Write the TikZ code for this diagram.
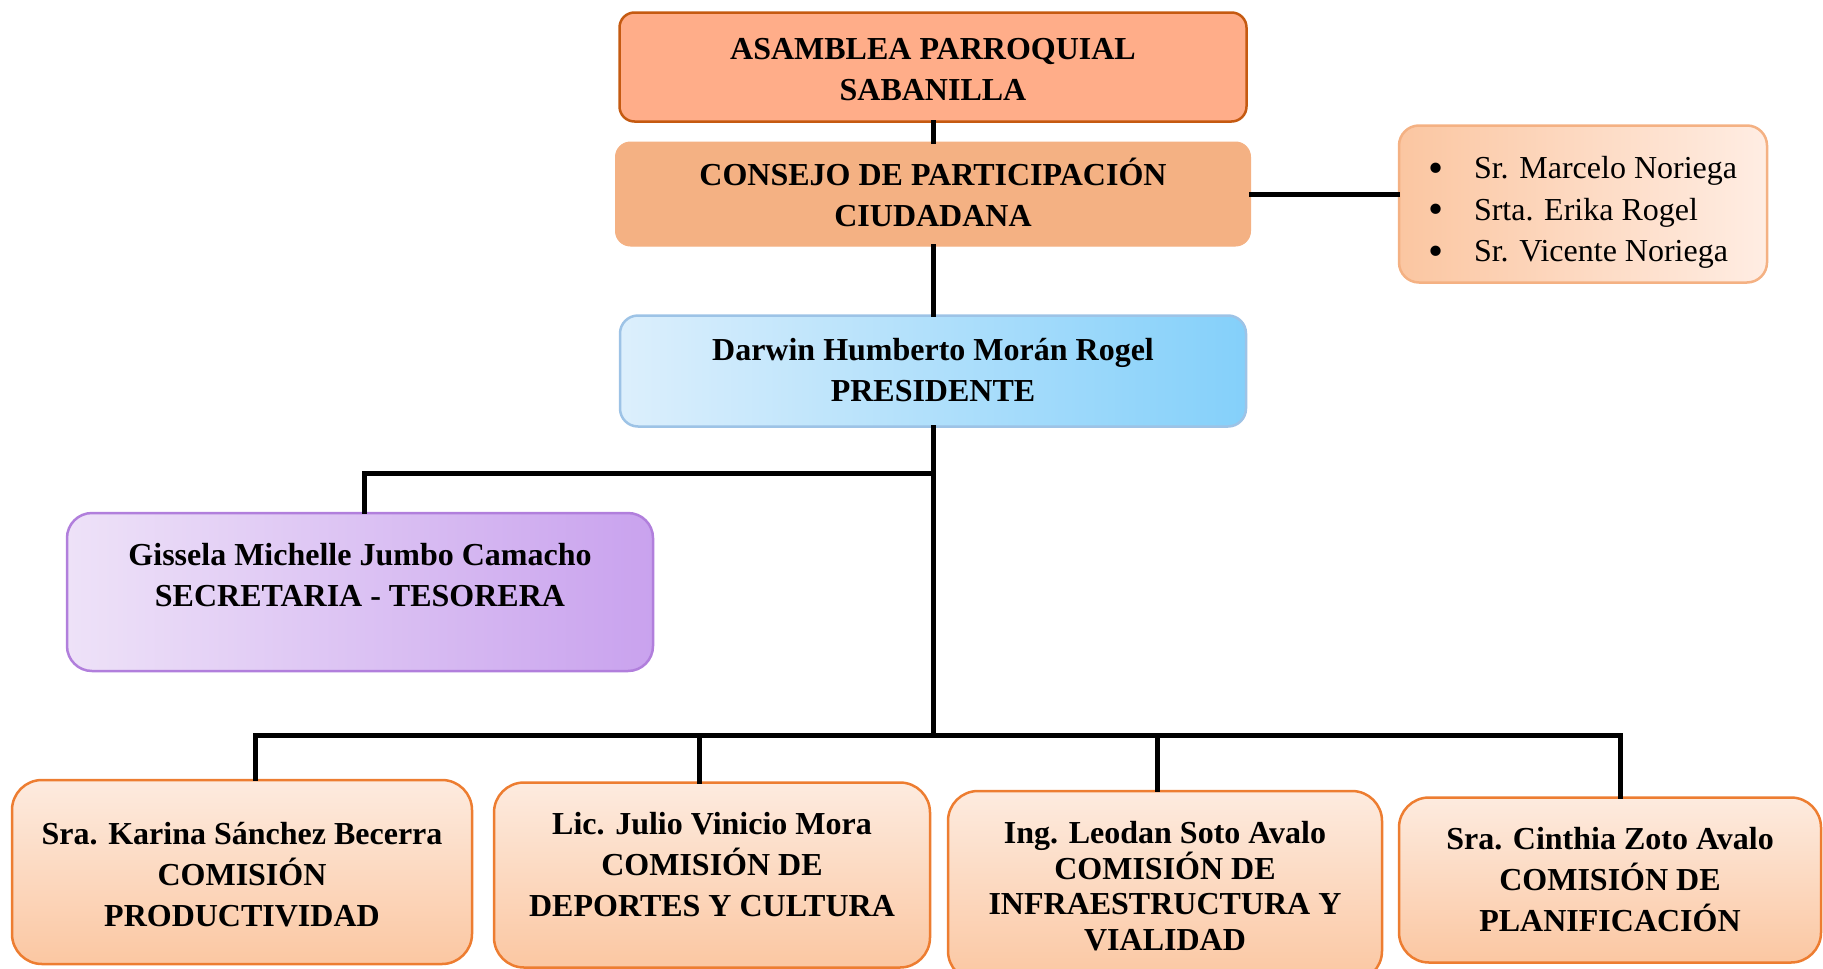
\documentclass[tikz,border=0pt]{standalone}
\usepackage{fontspec}
\setmainfont{Liberation Serif}
\usetikzlibrary{positioning,calc}
\definecolor{asamfill}{HTML}{FFAD89}
\definecolor{asamline}{HTML}{C55A11}
\definecolor{consfill}{HTML}{F4B183}
\definecolor{listleft}{HTML}{FBC6A1}
\definecolor{listright}{HTML}{FFEDE3}
\definecolor{presleft}{HTML}{DCEFFC}
\definecolor{presright}{HTML}{84D0FA}
\definecolor{presline}{HTML}{9DC3E6}
\definecolor{secleft}{HTML}{EEE2F8}
\definecolor{secright}{HTML}{C9A2EE}
\definecolor{secline}{HTML}{B17FDC}
\definecolor{comtop}{HTML}{FDEBDF}
\definecolor{combottom}{HTML}{FBC7A2}
\definecolor{comline}{HTML}{ED7D31}
\newcommand{\bigbullet}{\raisebox{-3.5pt}{\fontsize{43}{43}\selectfont\textbullet}}
% move the lines inside a box without changing its size
\newcommand{\shifttext}[2]{\raisebox{#1}[\height][\depth]{\begin{tabular}{@{}c@{}}#2\end{tabular}}}
\tikzset{
  orgline/.style={line width=5pt, draw=black, line cap=rect},
  orgbox/.style={rounded corners=15pt, align=center, inner sep=0pt, font=\bfseries\fontsize{32}{41}\selectfont},
  boxtext/.style={align=center, inner sep=0pt, font=\bfseries\fontsize{32}{41}\selectfont},
}

\begin{document}
\begin{tikzpicture}[
  x=1pt, y=-1pt,
  asambox/.style={orgbox, draw=asamline, line width=2.5pt, fill=asamfill, minimum width=627pt, minimum height=109pt},
  consbox/.style={orgbox, draw=consfill, line width=1pt, fill=consfill, minimum width=635pt, minimum height=104pt},
  listbox/.style={rounded corners=20pt, draw=consfill, line width=2.5pt, left color=listleft, right color=listright,
    minimum width=368pt, minimum height=157pt, inner sep=0pt, font=\fontsize{32}{41.5}\selectfont},
  presbox/.style={orgbox, rounded corners=18pt, draw=presline, line width=2.5pt, left color=presleft, right color=presright,
    minimum width=626pt, minimum height=111pt},
  secbox/.style={orgbox, rounded corners=25pt, draw=secline, line width=2.5pt, left color=secleft, right color=secright,
    minimum width=586pt, minimum height=158pt},
  combox/.style={orgbox, rounded corners=30pt, draw=comline, line width=2.5pt, top color=comtop, bottom color=combottom},
]
  \useasboundingbox (0,0) rectangle (1823,969);

  \node[asambox] (asam) at (933,67)  {\shifttext{-5pt}{ASAMBLEA PARROQUIAL\\SABANILLA}};
  \node[consbox] (cons) at (933,194) {\shifttext{-4pt}{CONSEJO DE PARTICIPACIÓN\\CIUDADANA}};
  \node[listbox] (miembros) at (1583,204) {\raisebox{-8pt}[\height][\depth]{%
    \begin{tabular}{@{}c@{\hspace{30pt}}l@{}}
      \bigbullet & Sr. Marcelo Noriega\\
      \bigbullet & Srta. Erika Rogel\\
      \bigbullet & Sr. Vicente Noriega
    \end{tabular}}};
  \node[presbox] (pres) at (933,371) {\shifttext{-2pt}{Darwin Humberto Morán Rogel\\PRESIDENTE}};

  \node[secbox] (secre) at (360,592) {};
  \node[boxtext, anchor=north] (secretxt) at ([yshift=-31pt]secre.north) {Gissela Michelle Jumbo Camacho\\SECRETARIA - TESORERA};

  \node[combox, minimum width=460pt, minimum height=184pt] (prod)  at (242,872)  {\shifttext{-5pt}{Sra. Karina Sánchez Becerra\\COMISIÓN\\PRODUCTIVIDAD}};
  \node[combox, minimum width=436pt, minimum height=185pt] (dep)   at (712,875)  {\shifttext{8pt}{Lic. Julio Vinicio Mora\\COMISIÓN DE\\DEPORTES Y CULTURA}};
  \node[combox, minimum width=434pt, minimum height=190pt, font=\bfseries\fontsize{32}{35.5}\selectfont] (infra) at (1165,886)
    {Ing. Leodan Soto Avalo\\COMISIÓN DE\\INFRAESTRUCTURA Y\\VIALIDAD};
  \node[combox, minimum width=422pt, minimum height=165pt] (plan)  at (1610,880) {Sra. Cinthia Zoto Avalo\\COMISIÓN DE\\PLANIFICACIÓN};

  \coordinate (ramal) at (933,473);
  \coordinate (bus)   at (933,735);

  \draw[orgline] (asam) -- (cons);
  \draw[orgline] (cons) -- (pres);
  \draw[orgline] (pres) -- (bus);
  \draw[orgline] (ramal) -| ([xshift=4pt]secre.north);
  \draw[orgline] (cons.east) -- (cons.east -| miembros.west);

  \foreach \n/\dx in {prod/13pt, dep/-13pt, infra/-8pt, plan/10pt} {
    \path ([xshift=\dx]\n.north) coordinate (\n-top);
    \draw[orgline] (\n-top |- bus) -- (\n-top);
  }
  \draw[orgline] (prod-top |- bus) -- (plan-top |- bus);
\end{tikzpicture}
\end{document}
